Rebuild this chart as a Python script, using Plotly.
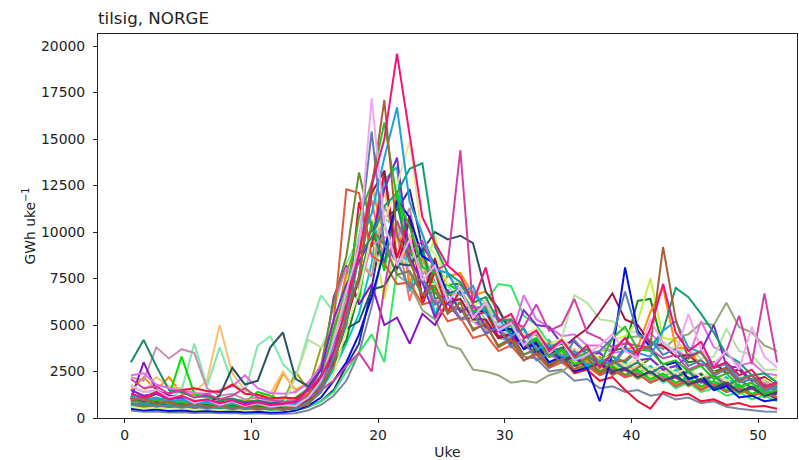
import sys
import plotly.graph_objects as go

# Week positions (midpoints of weeks 1..52)
UKE = [w + 0.5 for w in range(52)]

Y_TICKS = [0, 2500, 5000, 7500, 10000, 12500, 15000, 17500, 20000]
X_TICKS = [0, 10, 20, 30, 40, 50]

# ---- weekly inflow series (GWh/week) ----
pinkred = [1300, 1100, 1400, 1000, 1200, 900, 1000, 800, 950, 700, 850, 700, 750,
           900, 1500, 2200, 3600, 6000, 8800, 12500, 15000, 19600, 15200, 10800, 9400, 8200,
           7600, 6200, 8100, 5200, 5600, 4300, 4700, 3600, 4200, 3300, 3900, 2700, 3500,
           4300, 3400, 4800, 7200, 4600, 3600, 4100, 2700, 3000, 2300, 2600, 1700, 1900]
lavender = [1700, 1400, 1500, 1100, 1200, 800, 1000, 700, 900, 650, 800, 600, 700,
            650, 1100, 2000, 4200, 6800, 9200, 17200, 10500, 8200, 9600, 7400, 8200, 6300,
            7000, 5400, 6200, 4700, 5100, 3900, 4600, 3500, 4100, 3100, 3400, 3900, 4500,
            3600, 3200, 5300, 4000, 3500, 5600, 3700, 2900, 3600, 2600, 4900, 3300, 2700]
brown = [900, 1100, 750, 900, 650, 800, 560, 700, 520, 650, 480, 600, 450,
         600, 700, 1700, 2800, 5500, 7600, 12400, 17100, 9800, 8500, 6600, 7100, 5600,
         6200, 4700, 5100, 3800, 4200, 3100, 3500, 2700, 3200, 2600, 3300, 2400, 3000,
         3100, 3700, 3900, 9200, 5300, 3200, 3600, 2400, 2700, 2000, 2300, 1600, 1800]
cyanblue = [1200, 1000, 1100, 900, 1000, 800, 850, 750, 800, 700, 760, 680, 700,
            750, 1100, 1800, 4000, 5600, 9300, 11000, 14000, 16700, 11600, 9900, 8000, 7800,
            6600, 7100, 5600, 5400, 4400, 4800, 3700, 4000, 3300, 3600, 2800, 3100, 2900,
            3700, 3500, 3300, 4700, 5200, 3800, 3500, 2700, 2900, 2100, 2300, 1600, 1700]
steelblue = [700, 800, 600, 700, 550, 650, 500, 600, 470, 560, 450, 520, 430,
             550, 800, 1400, 3300, 5200, 9400, 15400, 9300, 8400, 7000, 7600, 6100, 6500,
             5300, 5700, 4500, 4900, 3800, 4200, 3100, 3500, 3000, 4200, 3400, 3600, 4300,
             6800, 4500, 4200, 3400, 3700, 2800, 3100, 2300, 2600, 1900, 2100, 1500, 1600]
green = [1000, 800, 950, 750, 850, 700, 800, 650, 750, 620, 700, 600, 650,
         700, 1100, 2000, 4800, 6600, 10800, 12600, 15900, 11800, 10300, 8100, 7800, 6600,
         6900, 5700, 5900, 4700, 5000, 3900, 4200, 3300, 3700, 3200, 3500, 2900, 4300,
         4900, 3700, 3600, 2900, 3100, 2500, 2800, 2100, 2400, 1700, 1900, 1300, 1500]
magenta = [2100, 1600, 1700, 1300, 1500, 1100, 1300, 1000, 1200, 1600, 1100, 1000, 850,
           900, 1100, 1500, 2000, 2800, 3500, 2500, 7000, 10600, 8900, 9500, 7900, 8300,
           14400, 5900, 6000, 4800, 5200, 4900, 6100, 4700, 5000, 6400, 4600, 4300, 3800,
           4000, 3900, 3700, 3200, 3400, 2600, 2900, 2700, 3600, 5500, 2900, 6700, 3000]
teal = [800, 700, 750, 600, 680, 560, 640, 520, 600, 480, 560, 450, 500,
        480, 800, 1400, 3200, 5000, 8800, 9700, 11400, 12100, 13400, 13700, 9200, 7800,
        7300, 6200, 6500, 5200, 5300, 4300, 4500, 3800, 4100, 3400, 3700, 3000, 3300,
        3000, 3600, 3800, 4700, 7000, 6500, 5600, 4600, 3400, 3000, 2300, 2400, 1900]
paleyellow = [600, 500, 560, 480, 520, 450, 490, 430, 470, 410, 440, 390, 420,
              500, 800, 1300, 2300, 4800, 6800, 9900, 10600, 12500, 14900, 9600, 8800, 7200,
              7400, 6100, 6300, 5200, 5500, 4500, 4800, 3900, 4300, 3600, 3900, 3100, 3400,
              2800, 3200, 2600, 2900, 2400, 2700, 2200, 2500, 2000, 2300, 1800, 2100, 1700]
purple = [1500, 1200, 1300, 1000, 1100, 900, 950, 850, 900, 800, 850, 750, 800,
          850, 1600, 2600, 5300, 7200, 8400, 9700, 12300, 14000, 8600, 7300, 5400, 6900,
          5700, 6100, 4900, 4700, 4000, 5800, 5000, 4900, 4000, 4100, 3400, 3500, 2900,
          3800, 3100, 3200, 2600, 2800, 3300, 3600, 5000, 2800, 2700, 2000, 2100, 1600]
orangered = [1100, 950, 1050, 850, 950, 780, 850, 720, 800, 680, 760, 650, 700,
             850, 1300, 2700, 5200, 12300, 12100, 8700, 8300, 7200, 7300, 6100, 6300, 5200,
             5400, 4300, 4500, 3600, 3900, 3100, 3400, 2700, 3000, 2500, 2800, 2300, 2600,
             2200, 2400, 1900, 2200, 1700, 2000, 1500, 1800, 1400, 1600, 1200, 1400, 1100]
olive = [700, 600, 650, 550, 600, 520, 560, 480, 530, 460, 500, 430, 480,
         800, 1200, 2700, 6300, 8700, 13200, 10200, 9300, 7700, 7900, 6600, 6800, 5700,
         5900, 4800, 5000, 3900, 4300, 3400, 3700, 2900, 3300, 2600, 2900, 2400, 2700,
         2300, 2700, 3200, 2600, 2800, 2100, 2400, 1700, 2000, 1400, 1700, 1200, 1500]
slate = [1000, 850, 800, 650, 700, 550, 750, 1200, 2700, 1800, 2000, 3800, 4600,
         2100, 1700, 2600, 3300, 4800, 5200, 6900, 7100, 8300, 8200, 9000, 10000, 9600,
         9800, 9400, 6800, 5900, 4500, 4800, 3500, 3900, 3100, 3400, 2700, 3000, 2500,
         2700, 2200, 2500, 2000, 2300, 1800, 2100, 1600, 1900, 1400, 1700, 1200, 1400]
darkteal = [3000, 4200, 2800, 1500, 1400, 1100, 1200, 950, 1050, 850, 950, 800, 900,
            850, 1300, 2300, 3300, 6100, 7200, 10100, 8300, 11600, 8300, 9100, 6400, 6700,
            6900, 5700, 5800, 4700, 4800, 3900, 4200, 3500, 3800, 3100, 3400, 2800, 3100,
            2600, 3000, 2400, 2800, 2200, 2500, 1900, 2300, 1700, 2100, 1600, 1800, 1400]
mauve = [2200, 2000, 3800, 3200, 3700, 3500, 1600, 1200, 1300, 1000, 1100, 900, 1000,
         950, 1600, 2900, 4300, 6600, 8400, 7600, 11400, 9700, 11300, 7700, 8400, 6100,
         7300, 6200, 6300, 5200, 5300, 4400, 4600, 3800, 4100, 3400, 3700, 3000, 3300,
         2700, 3000, 2400, 2800, 2200, 2600, 2000, 2400, 1800, 2100, 1600, 1900, 1500]
brightgreen = [1200, 950, 900, 1200, 3300, 1300, 1100, 950, 1000, 850, 1400, 1200, 950,
               1100, 1600, 2600, 4300, 7100, 6300, 10600, 7900, 12200, 8800, 9100, 6900, 7200,
               6800, 5700, 5800, 4800, 4700, 4000, 4300, 3400, 3600, 2900, 3200, 2500, 2800,
               2300, 2600, 2100, 2400, 1900, 2200, 1700, 2000, 1500, 1800, 1300, 1600, 1100]
lightgreen = [1500, 1200, 1300, 1000, 1500, 4000, 1700, 3800, 1900, 1400, 3900, 4400, 2900,
              2200, 4500, 6600, 5700, 8300, 9700, 12300, 10700, 10300, 8700, 8300, 7200, 7100,
              6300, 6200, 5300, 5100, 4400, 4500, 3700, 3900, 3200, 3400, 2800, 3000, 2500,
              2700, 2200, 2500, 1900, 2300, 1800, 2100, 1600, 1900, 1400, 1700, 1200, 1500]
lightorange = [1700, 1400, 2200, 1700, 1600, 1400, 2000, 5000, 2400, 1500, 1200, 1300, 2500,
               1400, 1900, 2600, 4400, 6800, 8800, 7600, 12300, 8700, 9900, 6200, 7800, 5700,
               6800, 5800, 5700, 4800, 4900, 4000, 4300, 3500, 3700, 3000, 3300, 2600, 2900,
               2500, 2800, 2300, 2600, 2100, 2400, 1900, 2200, 1700, 2000, 1500, 1800, 1300]
violet = [1000, 3000, 1500, 1200, 1100, 900, 950, 800, 850, 750, 800, 700, 750,
          800, 1300, 2100, 6500, 8200, 6100, 7200, 5000, 5400, 4000, 5600, 5000, 6200,
          5300, 5400, 4600, 4700, 4000, 4100, 3400, 3700, 3000, 3300, 2700, 2900, 2400,
          2600, 2200, 2500, 2000, 2200, 1800, 2000, 1600, 1800, 1400, 1600, 1200, 1300]
blue = [500, 420, 450, 380, 400, 350, 370, 330, 350, 310, 330, 290, 310,
        400, 650, 1100, 2000, 3000, 4500, 6500, 9000, 11700, 10800, 8700, 8300, 6700,
        6800, 5700, 5800, 4700, 4800, 3700, 4000, 3000, 3300, 2500, 2700, 900, 3500,
        8100, 4700, 3800, 2800, 3000, 2100, 2300, 1500, 1700, 1100, 1200, 900, 1000]
yellowgreen = [800, 700, 750, 650, 700, 600, 650, 560, 620, 530, 580, 500, 550,
               650, 1100, 2000, 4000, 5800, 7300, 10200, 6400, 9700, 11300, 7700, 9800, 6600,
               6800, 5700, 5800, 4700, 4900, 3900, 4300, 3300, 3700, 3000, 3600, 3500, 4200,
               4400, 5200, 7500, 4300, 4200, 3400, 3500, 2700, 3000, 2300, 2600, 1900, 2200]
red = [1200, 1000, 1300, 1350, 1500, 1600, 1450, 1400, 1800, 1300, 1250, 1050, 1100,
       1050, 1500, 2000, 3400, 5300, 11600, 9200, 13300, 8600, 10900, 6100, 7900, 5700,
       6900, 5500, 5700, 4400, 4500, 3400, 3700, 2800, 3200, 2400, 2600, 2000, 2200,
       1500, 900, 500, 1400, 1200, 1300, 900, 1000, 700, 800, 600, 650, 500]
khaki = [900, 800, 850, 700, 750, 650, 700, 600, 650, 560, 620, 520, 580,
         650, 1000, 1900, 4300, 6200, 8800, 9700, 9400, 7700, 7200, 5800, 5300, 3900,
         3700, 2600, 2500, 2300, 1900, 2000, 1900, 2300, 2500, 3000, 3100, 3600, 3700,
         4300, 4400, 4100, 3700, 4300, 4500, 5100, 5000, 6200, 4900, 4600, 3900, 3600]
darkred = [1000, 850, 900, 750, 800, 680, 720, 620, 680, 580, 640, 550, 600,
           650, 1000, 1700, 3000, 5200, 7600, 12100, 13300, 8000, 10700, 6400, 8600, 6200,
           6400, 5300, 5300, 4300, 4500, 3800, 4100, 3400, 3700, 4300, 4800, 5700, 6700,
           5300, 5000, 4000, 3900, 3300, 3400, 2800, 3000, 2400, 2600, 2000, 2200, 1700]
darkgreen = [800, 650, 700, 550, 620, 520, 580, 480, 540, 460, 510, 440, 480,
             550, 850, 1500, 2900, 4200, 6800, 10200, 8300, 11700, 9300, 6200, 8300, 7200,
             7200, 6200, 6300, 5200, 5200, 4400, 4500, 3700, 4000, 3200, 3500, 2800, 3600,
             3800, 6300, 6400, 3800, 3700, 3000, 3100, 2500, 2700, 2100, 2300, 1700, 1900]
springgreen = [600, 500, 550, 450, 500, 420, 460, 390, 430, 360, 400, 340, 380,
               420, 620, 900, 1400, 2500, 3500, 4500, 3000, 8000, 9200, 7200, 7300, 6200,
               6200, 5600, 6300, 7200, 7100, 5500, 5000, 4000, 4200, 3300, 3500, 2700, 3000,
               2300, 2600, 1900, 2200, 1600, 1900, 1400, 1600, 1200, 1400, 1000, 1200, 900]
oliveyellow = [600, 500, 560, 450, 520, 430, 480, 400, 440, 370, 400, 360, 800,
               2500, 1500, 3800, 4700, 7800, 9700, 12300, 10700, 10300, 8700, 8300, 6700, 6800,
               5800, 5800, 4800, 4900, 4000, 4200, 3400, 3600, 3000, 3200, 2600, 2800, 2300,
               2600, 2100, 2400, 1900, 2200, 1700, 2000, 1500, 1800, 1300, 1600, 1100, 1400]
orange = [1500, 2200, 1500, 2200, 1300, 1250, 1100, 1050, 950, 950, 850, 900, 2400,
          1500, 1900, 2700, 4300, 7700, 8300, 12700, 9300, 10600, 7300, 8700, 6800, 7600,
          7800, 6600, 6800, 5700, 5000, 4800, 3800, 4100, 3400, 3700, 3000, 3300, 2700,
          3700, 3800, 5700, 7000, 3800, 3700, 2800, 3000, 2400, 2600, 2000, 2200, 1700]
cyan = [900, 800, 850, 700, 750, 650, 700, 600, 650, 560, 620, 520, 580,
        620, 900, 1500, 2600, 4000, 5600, 8300, 12800, 13500, 6800, 9300, 5500, 7800,
        6700, 6800, 5700, 5800, 4700, 4800, 3900, 4200, 3300, 3600, 2900, 3200, 2600,
        3000, 2400, 2800, 2200, 2600, 2000, 2400, 1800, 2200, 1600, 1900, 1400, 1700]
greyblue = [400, 330, 350, 290, 310, 270, 290, 250, 270, 230, 250, 210, 230,
            260, 420, 700, 1200, 2000, 3500, 6000, 9300, 10300, 9200, 8700, 7300, 6200,
            6300, 5200, 5300, 4300, 4200, 3300, 3200, 2500, 2600, 2000, 2100, 1600, 1700,
            1400, 1500, 1200, 1300, 1000, 1100, 800, 900, 600, 500, 420, 350, 330]
violetpink = [2300, 2400, 1800, 1600, 1500, 1350, 1300, 1500, 1700, 2300, 1600, 1350, 1300,
              1400, 1900, 2800, 6200, 8100, 7000, 9300, 9700, 9800, 7700, 7300, 6300, 6300,
              5400, 5200, 4700, 4800, 4300, 6600, 5300, 4900, 4400, 4500, 3900, 3900, 3500,
              3600, 3300, 4600, 3800, 3700, 3200, 5200, 3800, 3500, 2800, 3000, 2400, 2300]
navy = [600, 500, 550, 450, 500, 420, 460, 380, 420, 350, 390, 330, 370,
        420, 600, 900, 1500, 2800, 4000, 7000, 10800, 11200, 12300, 9200, 8300, 6700,
        6800, 5700, 5800, 4700, 4800, 4000, 3900, 3300, 3400, 2800, 3000, 2500, 2600,
        2200, 2400, 1900, 2200, 1800, 2000, 1600, 1800, 1400, 1600, 1200, 1400, 1000]
palegreen = [1800, 1400, 1400, 1100, 1200, 950, 1000, 850, 900, 750, 800, 650, 700,
             2200, 4200, 3800, 5200, 7200, 9800, 10700, 10200, 8700, 8300, 7200, 7200, 6200,
             6300, 5200, 5300, 4400, 4500, 3800, 4000, 3400, 4300, 6600, 6200, 5300, 5200,
             4700, 4600, 4000, 4100, 3600, 3700, 3200, 3300, 4800, 3600, 3400, 2600, 2600]
salmon = [1000, 900, 950, 800, 850, 740, 760, 680, 700, 640, 660, 600, 620,
          700, 1000, 1800, 3500, 5200, 9800, 11700, 8300, 9900, 6300, 8700, 5300, 6200,
          6300, 5300, 5200, 4300, 4400, 3800, 3900, 3300, 3400, 2900, 3100, 2600, 2700,
          2200, 2500, 2000, 2300, 1800, 2100, 1600, 1900, 1400, 1700, 1200, 1500, 1100]

# drawing order (later = on top) and line colours
SERIES = [greyblue, navy, salmon, cyan, oliveyellow, springgreen, khaki, darkgreen,
          yellowgreen, orange, lightorange, lightgreen, brightgreen, mauve, darkteal,
          violet, violetpink, palegreen, red, darkred, olive, orangered, slate, blue,
          purple, paleyellow, teal, magenta, green, steelblue, cyanblue, brown,
          lavender, pinkred]
COLORS = ['#7a86a6', '#30308a', '#f07070', '#00c8c8', '#a0a010', '#30e868', '#94a878', '#108a10',
          '#c8f040', '#ff8c00', '#f8c070', '#80e8a8', '#00e000', '#c890b0', '#1a8a6a',
          '#8a10c8', '#e070e8', '#b8e0a0', '#f01030', '#a01840', '#6a8a30', '#e05a3a', '#2a5262', '#0010e0',
          '#7a28d8', '#e0e890', '#10a070', '#d040a8', '#22c022', '#5a7fb0', '#1ca0e0', '#a8603a',
          '#f0a8f0', '#f5107a']

fig = go.Figure()
for vals, col in zip(SERIES, COLORS):
    if len(vals) != 52:
        print("warning: series length", len(vals), file=sys.stderr)
    fig.add_trace(go.Scatter(x=UKE[:len(vals)], y=vals, mode='lines',
                             line=dict(color=col, width=2), showlegend=False,
                             hoverinfo='skip'))

FONT = 'DejaVu Sans'
axis_common = dict(showline=True, linecolor='#222', linewidth=1, mirror=True,
                   ticks='outside', ticklen=4, tickwidth=1, tickcolor='#222',
                   showgrid=False, zeroline=False,
                   tickfont=dict(family=FONT, size=13.9, color='#222'))

fig.update_layout(
    width=799, height=460,
    margin=dict(l=98, r=2, t=34, b=42),
    paper_bgcolor='white', plot_bgcolor='white',
    title=dict(text='tilsig, NORGE', x=0, xanchor='left', xref='paper',
               y=1 - 18 / 460, yanchor='middle', yref='container',
               font=dict(family=FONT, size=16.7, color='#222')),
    xaxis=dict(range=[-2.1, 53.07], tickvals=X_TICKS,
               title=dict(text='Uke', standoff=6,
                          font=dict(family=FONT, size=13.9, color='#222')),
               **axis_common),
    yaxis=dict(range=[0, 20650], tickvals=Y_TICKS, tickformat='d',
               ticklabelstandoff=5,
               title=dict(text='GWh uke<sup>−1</sup>', standoff=2,
                          font=dict(family=FONT, size=13.9, color='#222')),
               **axis_common),
)

fig.write_html('out.html')
